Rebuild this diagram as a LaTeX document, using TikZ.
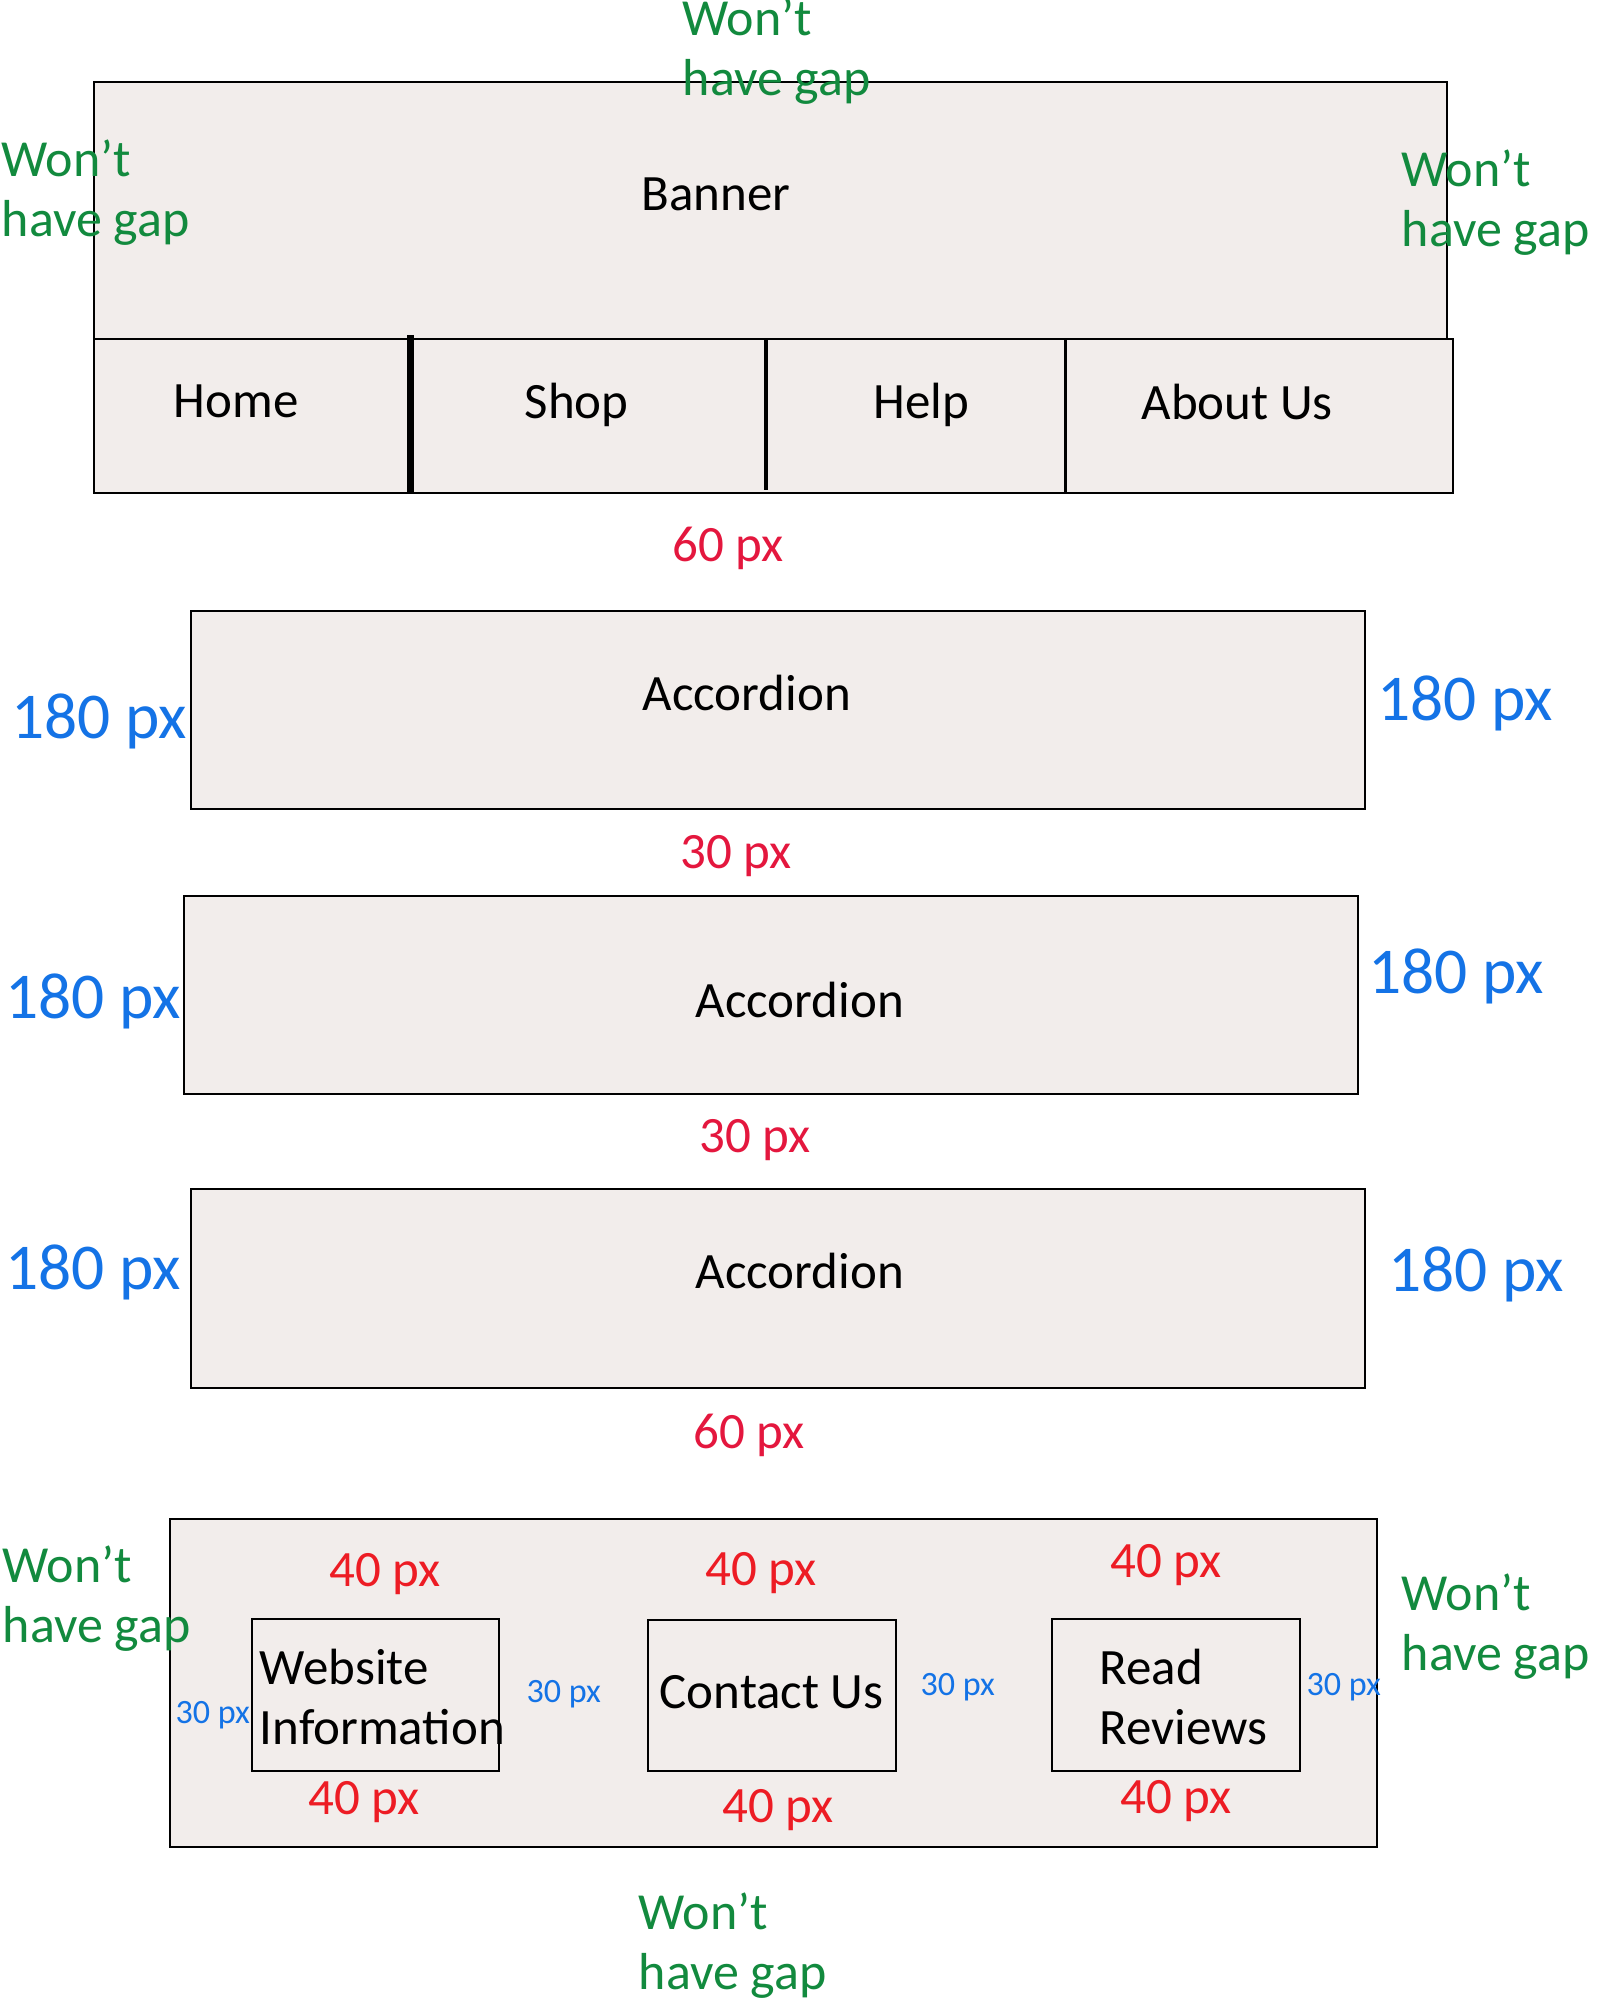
\documentclass[tikz,border=0pt]{standalone}
\usepackage{fontspec}
\setmainfont{Carlito}
\definecolor{wgreen}{RGB}{18,138,62}
\definecolor{wblue}{RGB}{20,115,230}
\definecolor{wcrimson}{RGB}{228,23,62}
\definecolor{wred}{RGB}{237,28,36}
\definecolor{boxfill}{RGB}{242,237,235}
\newcommand\twoline[2]{\vtop{\baselineskip=6mm\hbox{#1}\hbox{#2}}}
\tikzset{
  wbox/.style={draw=black, fill=boxfill, line width=0.22mm},
  ibox/.style={draw=black, line width=0.2mm},
  lbl/.style={inner sep=0pt, anchor=base west},
  blk/.style={lbl, text=black, font=\fontsize{14.5}{17}\selectfont},
  gap/.style={lbl, text=wgreen, font=\fontsize{14.8}{17}\selectfont},
  bigblue/.style={lbl, text=wblue, font=\fontsize{18.6}{22}\selectfont},
  smallblue/.style={lbl, text=wblue, font=\fontsize{9.7}{12}\selectfont},
  crim/.style={lbl, text=wcrimson, font=\fontsize{14.5}{17}\selectfont},
  redl/.style={lbl, text=wred, font=\fontsize{14.5}{17}\selectfont}
}
\begin{document}
\begin{tikzpicture}[x=0.1mm,y=-0.1mm]
\useasboundingbox[fill=white] (0,0) rectangle (1600,2000);

% header: banner + navigation
\draw[wbox] (93.7,81.7) rectangle (1446.7,339);
\draw[wbox] (93.7,339) rectangle (1452.7,493);
\draw[line width=0.7mm] (410.5,335) -- (410.5,493);
\draw[line width=0.4mm] (766,339) -- (766,490);
\draw[line width=0.3mm] (1065,339) -- (1065,493);

% accordions
\draw[wbox] (190.7,611) rectangle (1365,809);
\draw[wbox] (184,896) rectangle (1358,1094);
\draw[wbox] (190.7,1189) rectangle (1365,1388);

% footer
\draw[wbox] (169.7,1519) rectangle (1377,1846.7);
\draw[ibox] (251.7,1619) rectangle (499,1770.7);
\draw[ibox] (647.7,1620) rectangle (896,1770.7);
\draw[ibox] (1051.7,1619) rectangle (1300,1770.7);

% black labels
\node[blk] (banner) at (641,210) {Banner};
\node[blk] (home) at (173,417) {Home};
\node[blk] (shop) at (524,418) {Shop};
\node[blk] (help) at (873,418) {Help};
\node[blk] (about) at (1141,419) {About Us};
\node[blk] (acc1) at (642,710) {Accordion};
\node[blk] (acc2) at (695,1017) {Accordion};
\node[blk] (acc3) at (695,1288) {Accordion};
\node[blk] (webinfo) at (259,1684) {\twoline{Website}{Information}};
\node[blk] (contact) at (659,1708) {Contact Us};
\node[blk] (reviews) at (1099,1684) {\twoline{Read}{Reviews}};

% green notes
\node[gap] (gtop) at (682,35) {\twoline{Won’t}{have gap}};
\node[gap] (gleft) at (1,176) {\twoline{Won’t}{have gap}};
\node[gap] (gright) at (1401,186) {\twoline{Won’t}{have gap}};
\node[gap] (gbl) at (2,1582) {\twoline{Won’t}{have gap}};
\node[gap] (gbr) at (1401,1610) {\twoline{Won’t}{have gap}};
\node[gap] (gbot) at (638,1929) {\twoline{Won’t}{have gap}};

% vertical spacing notes
\node[crim] (s60a) at (672,561) {60 px};
\node[crim] (s30a) at (680,868) {30 px};
\node[crim] (s30b) at (699,1152) {30 px};
\node[crim] (s60b) at (693,1448) {60 px};

% side widths
\node[bigblue] (w1l) at (11,738) {180 px};
\node[bigblue] (w1r) at (1377,720) {180 px};
\node[bigblue] (w2l) at (5,1018) {180 px};
\node[bigblue] (w2r) at (1368,993) {180 px};
\node[bigblue] (w3l) at (5,1289) {180 px};
\node[bigblue] (w3r) at (1388,1291) {180 px};

% footer spacing
\node[redl] (t1) at (329,1586) {40 px};
\node[redl] (t2) at (705,1585) {40 px};
\node[redl] (t3) at (1110,1577) {40 px};
\node[redl] (b1) at (308,1814) {40 px};
\node[redl] (b2) at (722,1822) {40 px};
\node[redl] (b3) at (1120,1813) {40 px};
\node[smallblue] (h1) at (175,1723) {30 px};
\node[smallblue] (h2) at (526,1702) {30 px};
\node[smallblue] (h3) at (920,1695) {30 px};
\node[smallblue] (h4) at (1306,1695) {30 px};
\end{tikzpicture}
\end{document}
